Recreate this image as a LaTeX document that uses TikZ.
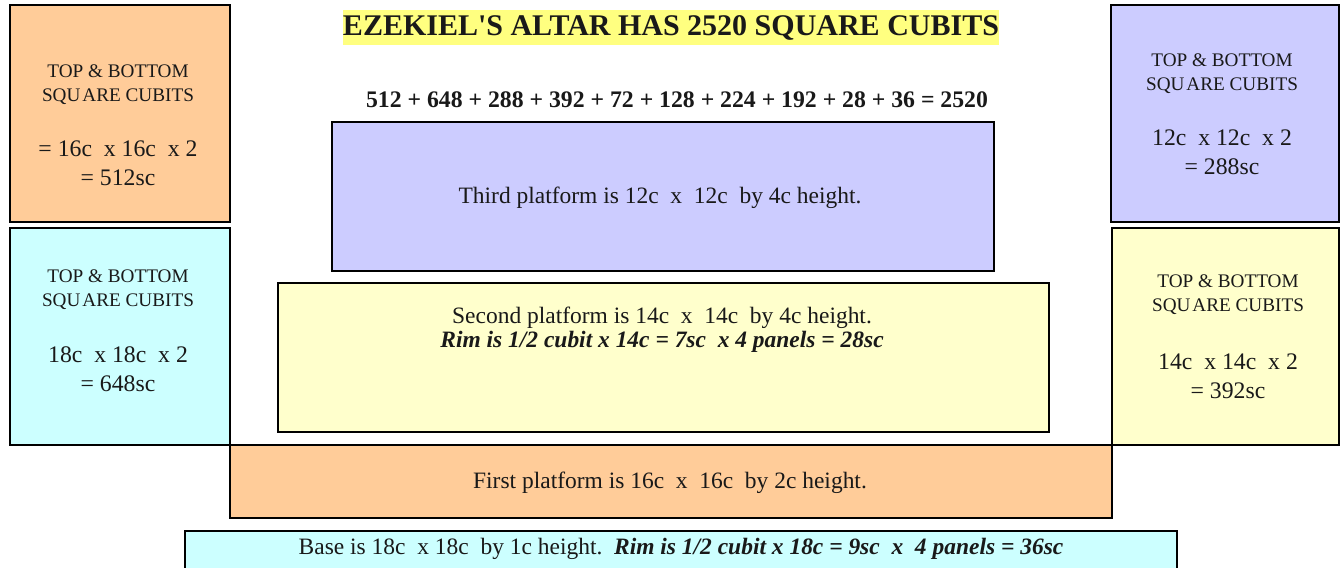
\documentclass[tikz,border=0pt]{standalone}
\usepackage{fontspec}
\setmainfont{Liberation Serif}
\usepackage{xcolor}
\usepackage{tikz}
\usetikzlibrary{positioning}

\definecolor{peach}{HTML}{FFCC99}
\definecolor{aqua}{HTML}{CCFFFF}
\definecolor{lilac}{HTML}{CCCCFF}
\definecolor{cream}{HTML}{FFFFCC}
\definecolor{hilite}{HTML}{FFFF80}

\newcommand\headfont{\fontsize{14.4}{18}\selectfont}
\newcommand\valfont{\fontsize{17.8}{21.75}\selectfont}
\newcommand\platfont{\fontsize{17.6}{18}\selectfont}

\begin{document}
\begin{tikzpicture}[
      x=0.75pt, y=-0.75pt,
      slab/.style 2 args={draw, line width=2pt, minimum width=#1*0.75pt,
                          minimum height=#2*0.75pt, inner sep=0pt},
      txt/.style={align=center, inner sep=0pt, text=black!90},
    ]
    % frame: 1344 x 567 px, y runs downwards
    \useasboundingbox (0,0) rectangle (1344,567);
    \clip (0,0) rectangle (1344,567);

    % platforms, centre column
    \node[slab={662}{149}, fill=lilac] (third)  at (663,196.5) {};
    \node[slab={771}{149}, fill=cream] (second) at (663.5,357.5) {};
    \node[slab={882}{73},  fill=peach] (first)  at (671,481.5) {};
    \node[slab={992}{75},  fill=aqua]  (base)   at (681,568.5) {};

    % side boxes
    \node[slab={220}{217}, fill=peach] (lt) at (120,113.5) {};
    \node[slab={220}{217}, fill=aqua]  (lb) at (120,336.5) {};
    \node[slab={228}{217}, fill=lilac] (rt) at (1225,113.5) {};
    \node[slab={227}{217}, fill=cream] (rb) at (1225.5,336.5) {};

    % title and sum
    \node[txt, fill=hilite, minimum height=26pt, font=\fontsize{22.5}{24}\selectfont\bfseries]
      (title) at (671,27.5) {EZEKIEL\textquotesingle S ALTAR HAS 2520 SQUARE CUBITS};
    \node[txt, font=\fontsize{17.8}{20}\selectfont\bfseries] (sum) at (677,100)
      {512 + 648 + 288 + 392 + 72 + 128 + 224 + 192 + 28 + 36 = 2520};

    % side box texts
    \node[txt, font=\headfont] (ltHead) at (118,85)  {TOP \& BOTTOM\\SQU\kern1.5pt ARE CUBITS};
    \node[txt, font=\valfont]  (ltVal)  at (118,163) {= 16c\ \ x 16c\ \ x 2\\= 512sc};
    \node[txt, font=\headfont] (lbHead) at (118,290) {TOP \& BOTTOM\\SQU\kern1.5pt ARE CUBITS};
    \node[txt, font=\valfont]  (lbVal)  at (118,369.5) {18c\ \ x 18c\ \ x 2\\= 648sc};
    \node[txt, font=\headfont] (rtHead) at (1222,73.5) {TOP \& BOTTOM\\SQU\kern1.5pt ARE CUBITS};
    \node[txt, font=\valfont]  (rtVal)  at (1222,152) {12c\ \ x 12c\ \ x 2\\= 288sc};
    \node[txt, font=\headfont] (rbHead) at (1228,294.5) {TOP \& BOTTOM\\SQU\kern1.5pt ARE CUBITS};
    \node[txt, font=\valfont]  (rbVal)  at (1228,376.5) {14c\ \ x 14c\ \ x 2\\= 392sc};

    % platform texts
    \node[txt, font=\platfont] (thirdTxt) at (660,198)
      {Third platform is 12c\ \ x\ \ 12c\ \ by 4c height.};
    \node[txt, font=\platfont] (secondTxt) at (662,330)
      {Second platform is 14c\ \ x\ \ 14c\ \ by 4c height.\\
       \textbf{\textit{Rim is 1/2 cubit x 14c = 7sc\ \ x 4 panels = 28sc}}};
    \node[txt, font=\platfont] (firstTxt) at (670,483)
      {First platform is 16c\ \ x\ \ 16c\ \ by 2c height.};
    \node[txt, font=\platfont] (baseTxt) at (681,549)
      {Base is 18c\ \ x 18c\ \ by 1c height.\ \ \textbf{\textit{Rim is 1/2 cubit x 18c = 9sc\ \ x\ \ 4 panels = 36sc}}};
  \end{tikzpicture}
\end{document}
